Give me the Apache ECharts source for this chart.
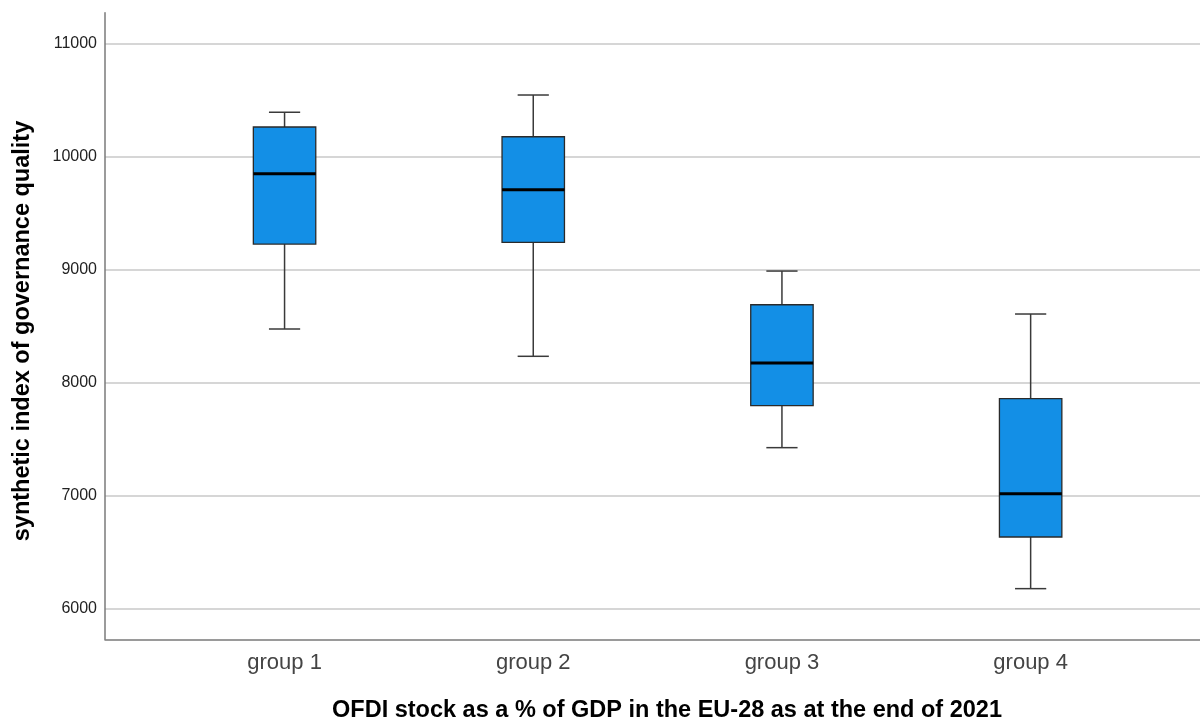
<!DOCTYPE html>
<html>
<head>
<meta charset="utf-8">
<title>Governance quality by OFDI stock group</title>
<script src="https://cdn.jsdelivr.net/npm/echarts@6/dist/echarts.min.js"></script>
<style>
  html, body { margin: 0; padding: 0; background: #ffffff; }
  #chart { width: 1200px; height: 720px; }
</style>
</head>
<body>
<div id="chart"></div>
<script>
// Groups along the x axis and their box-plot statistics
const groupLabels = ['group 1', 'group 2', 'group 3', 'group 4'];
const groupPos = [1, 2, 3, 4];
const whiskerLow = [8473, 8232, 7424, 6177];
const q1 = [9225, 9240, 7795, 6634];
const median = [9847, 9705, 8173, 7017];
const q3 = [10260, 10174, 8688, 7857];
const whiskerHigh = [10390, 10543, 8986, 8606];

const FONT = '"Liberation Sans", Arial, Helvetica, sans-serif';
const BOX_WIDTH = 0.251;      // box width in x-axis units
const BOX_FILL = '#138fe6';

const boxData = groupPos.map((x, i) => [x, whiskerLow[i], q1[i], median[i], q3[i], whiskerHigh[i]]);

// Whiskers with half-width caps, filled box and a heavy median line
function renderBox(params, api) {
  const x = api.value(0);
  const pMin = api.coord([x, api.value(1)]);
  const pQ1 = api.coord([x, api.value(2)]);
  const pMed = api.coord([x, api.value(3)]);
  const pQ3 = api.coord([x, api.value(4)]);
  const pMax = api.coord([x, api.value(5)]);
  const w = api.size([BOX_WIDTH, 0])[0];
  const cx = pMed[0];
  const capHalf = w / 4;
  const whiskerStyle = { stroke: '#3a3a3a', lineWidth: 1.5 };
  return {
    type: 'group',
    children: [
      { type: 'line', shape: { x1: cx, y1: pQ3[1], x2: cx, y2: pMax[1] }, style: whiskerStyle },
      { type: 'line', shape: { x1: cx, y1: pQ1[1], x2: cx, y2: pMin[1] }, style: whiskerStyle },
      { type: 'line', shape: { x1: cx - capHalf, y1: pMax[1], x2: cx + capHalf, y2: pMax[1] }, style: whiskerStyle },
      { type: 'line', shape: { x1: cx - capHalf, y1: pMin[1], x2: cx + capHalf, y2: pMin[1] }, style: whiskerStyle },
      { type: 'rect', shape: { x: cx - w / 2, y: pQ3[1], width: w, height: pQ1[1] - pQ3[1] },
        style: { fill: BOX_FILL, stroke: '#2a2a2a', lineWidth: 1.3 } },
      { type: 'line', shape: { x1: cx - w / 2, y1: pMed[1], x2: cx + w / 2, y2: pMed[1] },
        style: { stroke: '#000000', lineWidth: 3 } }
    ]
  };
}

const chart = echarts.init(document.getElementById('chart'), null, { renderer: 'canvas' });

chart.setOption({
  backgroundColor: '#ffffff',
  animation: false,
  grid: { left: 105, right: 0, top: 12.7, bottom: 80.7, containLabel: false, outerBoundsMode: 'none' },
  xAxis: {
    type: 'value',
    min: 0.278,
    max: 4.681,
    splitNumber: 5,
    name: 'OFDI stock as a % of GDP in the EU-28 as at the end of 2021',
    nameLocation: 'middle',
    nameGap: 59,
    nameTextStyle: { fontFamily: FONT, fontSize: 23.5, fontWeight: 'bold', color: '#000', padding: [0, 0, 0, 29] },
    axisLine: { show: true, onZero: false, lineStyle: { color: '#7a7a7a', width: 1.5 } },
    axisTick: { show: false },
    splitLine: { show: false },
    axisLabel: {
      fontFamily: FONT, fontSize: 22, color: '#444444', margin: 13,
      showMinLabel: false, showMaxLabel: false,
      formatter: v => {
        const i = groupPos.indexOf(Math.round(v * 1000) / 1000);
        return i >= 0 ? groupLabels[i] : '';
      }
    }
  },
  yAxis: {
    type: 'value',
    min: 5729,
    max: 11271,
    splitNumber: 5,
    name: 'synthetic index of governance quality',
    nameLocation: 'middle',
    nameGap: 70,
    nameTextStyle: { fontFamily: FONT, fontSize: 23.5, fontWeight: 'bold', color: '#000', padding: [0, 10, 0, 0] },
    axisLine: { show: true, lineStyle: { color: '#7a7a7a', width: 1.5 } },
    axisTick: { show: false },
    splitLine: { show: true, showMinLine: false, showMaxLine: false, lineStyle: { color: '#c8c8c8', width: 1.5 } },
    axisLabel: {
      fontFamily: FONT, fontSize: 16, color: '#222222', margin: 8,
      showMinLabel: false, showMaxLabel: false,
      formatter: v => (v % 1000 === 0 ? String(v) : '')
    }
  },
  series: [{
    type: 'custom',
    renderItem: renderBox,
    encode: { x: 0, y: [1, 2, 3, 4, 5] },
    data: boxData,
    clip: false
  }]
});
</script>
</body>
</html>
